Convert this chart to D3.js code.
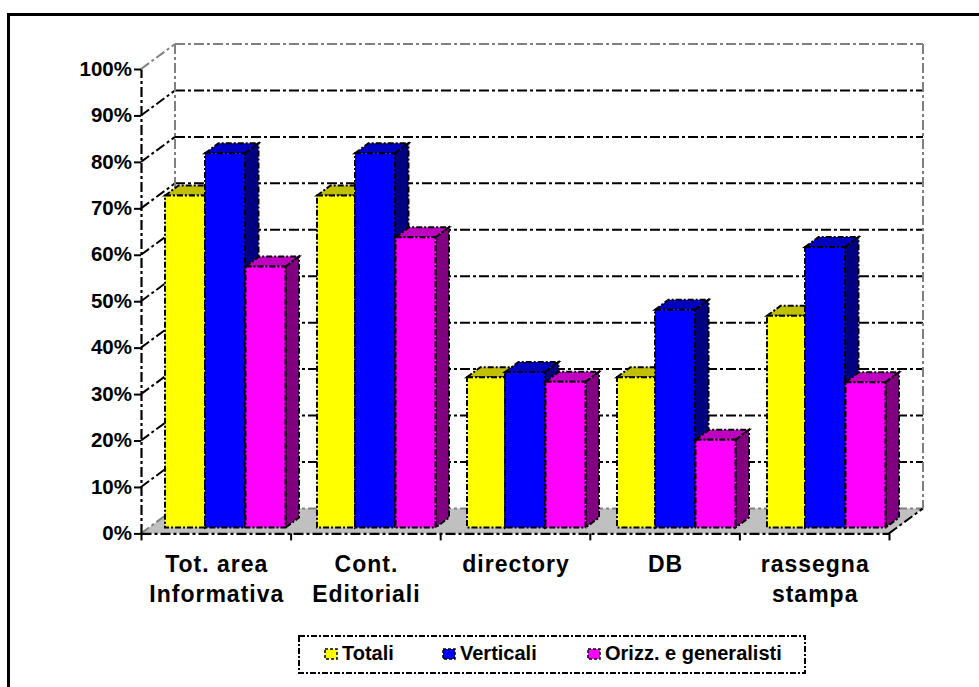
<!DOCTYPE html>
<html>
<head>
<meta charset="utf-8">
<script src="https://cdn.jsdelivr.net/npm/d3@7"></script>
<style>
html,body{margin:0;padding:0;background:#fff;}
svg{display:block;}
text{font-family:"Liberation Sans",Arial,sans-serif;font-weight:bold;fill:#000;}
</style>
</head>
<body>
<svg id="chart" width="979" height="687"></svg>
<script>
// Share of sites offering each content type, by site group
const categories = [["Tot. area","Informativa"],["Cont.","Editoriali"],["directory"],["DB"],["rassegna","stampa"]];
const seriesNames = ["Totali","Verticali","Orizz. e generalisti"];
const totali = [71.5, 71.5, 32.4, 32.4, 45.6];
const verticali = [80.6, 80.6, 33.5, 46.9, 60.4];
const orizzontali = [56.2, 62.5, 31.4, 18.9, 31.3];
const percentTicks = [0,10,20,30,40,50,60,70,80,90,100];
const faceColours = ["#ffff00","#0000ff","#ff00ff"];
const topColours = ["#c0c000","#0000c0","#c000c0"];
const sideColours = ["#808000","#000080","#800080"];

const values = [totali, verticali, orizzontali];
const svg = d3.select("#chart");
const gridDash = "10 3 3 3";
const edgeDash = "6 2 2 2";

// Outer frame: only the top and left edges fall inside the page
svg.append("path").attr("d","M8.5 687V14.5H979").attr("fill","none").attr("stroke","#000").attr("stroke-width",3);

// Oblique projection: front plane, with the back wall shifted up and to the right
const depth = {x:34, y:-25};
const y = d3.scaleLinear().domain([0,100]).range([533.4,69]);
const x = d3.scaleLinear().domain([0,5]).range([141,889]);

// Floor
const floor = svg.append("g");
floor.append("path")
  .attr("d",d3.line()([[x(0),y(0)],[x(0)+depth.x,y(0)+depth.y],[x(5)+depth.x,y(0)+depth.y],[x(5),y(0)]])+"Z")
  .attr("fill","#c0c0c0");
floor.append("line").attr("x1",x(0)+depth.x).attr("x2",x(5)+depth.x)
  .attr("y1",y(0)+depth.y).attr("y2",y(0)+depth.y)
  .attr("stroke","#808080").attr("stroke-width",2).attr("stroke-dasharray",gridDash);
floor.append("line").attr("x1",x(5)).attr("x2",x(5)+depth.x)
  .attr("y1",y(0)).attr("y2",y(0)+depth.y)
  .attr("stroke","#000").attr("stroke-width",2).attr("stroke-dasharray",gridDash);

// Gridlines on the side wall and back wall
const grid = svg.append("g").attr("fill","none");
percentTicks.filter(t=>t>0).forEach(t=>{
  const c = t===100 ? "#808080" : "#000";
  grid.append("line").attr("x1",x(0)).attr("y1",y(t))
    .attr("x2",x(0)+depth.x).attr("y2",y(t)+depth.y)
    .attr("stroke",c).attr("stroke-width",2).attr("stroke-dasharray",gridDash);
  grid.append("line").attr("x1",x(0)+depth.x).attr("x2",x(5)+depth.x)
    .attr("y1",y(t)+depth.y).attr("y2",y(t)+depth.y)
    .attr("stroke",c).attr("stroke-width",2).attr("stroke-dasharray",gridDash);
});
[0,5].forEach(i=>{
  grid.append("line").attr("x1",x(i)+depth.x).attr("x2",x(i)+depth.x)
    .attr("y1",y(100)+depth.y).attr("y2",y(0)+depth.y)
    .attr("stroke","#808080").attr("stroke-width",2).attr("stroke-dasharray",gridDash);
});
grid.append("line").attr("x1",x(0)).attr("x2",x(0)+depth.x).attr("y1",y(0)).attr("y2",y(0)+depth.y)
  .attr("stroke","#808080").attr("stroke-width",2).attr("stroke-dasharray",gridDash);

// Bars: each is a front face with a top and a side receding into the page
const barWidth = 40;
const barDepth = {x:13.5, y:-10};
const barBase = 527.6;
const barHeight = d3.scaleLinear().domain([0,100]).range([0,y(0)-y(100)]);
const groupStart = d3.scaleLinear().domain([0,5]).range([205,955]);
const bars = svg.append("g").attr("stroke","#000").attr("stroke-width",2)
  .attr("stroke-dasharray",edgeDash).attr("stroke-linejoin","miter");

categories.forEach((_,c)=>{
  values.forEach((vals,s)=>{
    // The yellow bar loses its left sliver in every group after the first
    const inset = (s===0 && c>0) ? 2 : 0;
    const x0 = groupStart(c) + (s-1)*barWidth + inset + (s===2 ? 0.5 : 0);
    const x1 = groupStart(c) + s*barWidth + (s===2 ? 0.5 : 0);
    const top = barBase - barHeight(vals[c]);
    const path = d3.line();
    bars.append("path").attr("fill",topColours[s])
      .attr("d",path([[x0,top],[x0+barDepth.x,top+barDepth.y],[x1+barDepth.x,top+barDepth.y],[x1,top]])+"Z");
    bars.append("path").attr("fill",sideColours[s])
      .attr("d",path([[x1,top],[x1+barDepth.x,top+barDepth.y],[x1+barDepth.x,barBase+barDepth.y],[x1,barBase]])+"Z");
    bars.append("path").attr("fill",faceColours[s])
      .attr("d",path([[x0,top],[x1,top],[x1,barBase],[x0,barBase]])+"Z");
  });
});

// Axes
const yAxis = svg.append("g").attr("transform",`translate(${x(0)},0)`)
  .call(d3.axisLeft(y).tickValues(percentTicks).tickFormat(d=>d+"%").tickSize(7).tickSizeOuter(0).tickPadding(2));
const xAxis = svg.append("g").attr("transform",`translate(0,${y(0)})`)
  .call(d3.axisBottom(x).tickValues([0,1,2,3,4,5]).tickFormat("").tickSize(7).tickSizeOuter(0));
[yAxis,xAxis].forEach(a=>{
  a.attr("font-family",null).attr("font-size",null);
  a.select(".domain").attr("stroke","#000").attr("stroke-width",2.2).attr("stroke-dasharray",gridDash);
  a.selectAll(".tick line").attr("stroke","#000").attr("stroke-width",2);
});
yAxis.selectAll("text").style("font-size","20.5px").attr("dy","0.3em").attr("fill","#000");

// Category labels, on one or two lines
const labels = svg.append("g").attr("text-anchor","middle").style("font-size","23px").style("letter-spacing","1px");
categories.forEach((lines,c)=>{
  const t = labels.append("text");
  lines.forEach((line,i)=>t.append("tspan").attr("x",(x(c)+x(c+1))/2+1).attr("y",571.5+i*30).text(line));
});

// Legend
const legend = svg.append("g");
legend.append("rect").attr("x",299).attr("y",636).attr("width",506).attr("height",37)
  .attr("fill","#fff").attr("stroke","#000").attr("stroke-width",2).attr("stroke-dasharray",edgeDash);
const legendX = d3.scaleOrdinal().domain(seriesNames).range([325,443,588]);
seriesNames.forEach((name,i)=>{
  legend.append("rect").attr("x",legendX(name)).attr("y",649).attr("width",12).attr("height",10)
    .attr("fill",faceColours[i]).attr("stroke","#000").attr("stroke-width",1.5).attr("stroke-dasharray","3 2");
  legend.append("text").attr("x",legendX(name)+17).attr("y",660).style("font-size","20px").text(name);
});
</script>
</body>
</html>
